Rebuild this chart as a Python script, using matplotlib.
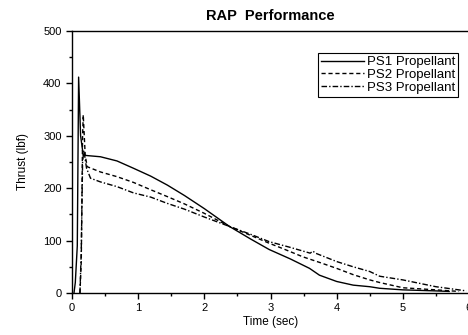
import matplotlib
matplotlib.use("Agg")
import matplotlib.pyplot as plt
from matplotlib.ticker import MultipleLocator

plt.rcParams['font.family'] = ['Liberation Sans', 'DejaVu Sans']

# PS1 Propellant (solid)
t1 = [0.03, 0.05, 0.08, 0.10, 0.13, 0.17, 0.25, 0.43, 0.68, 0.93, 1.19, 1.44,
      1.7, 2.0, 2.38, 2.7, 2.98, 3.3, 3.59, 3.74, 4.0, 4.25, 4.5, 4.65, 5.0, 5.5, 5.7]
p1 = [0, 20, 90, 412, 300, 263, 262, 260, 252, 238, 223, 206,
      186, 161, 127, 103, 83, 65, 47, 34, 22, 15, 12, 9, 6, 4, 3]

# PS2 Propellant (dashed)
t2 = [0.12, 0.14, 0.16, 0.17, 0.20, 0.23, 0.43, 0.68, 0.93, 1.19, 1.44, 1.7,
      2.0, 2.38, 2.7, 2.98, 3.2, 3.49, 3.75, 4.0, 4.25, 4.5, 4.65, 5.0, 5.5, 5.85]
p2 = [0, 60, 300, 340, 262, 241, 231, 222, 211, 197, 184, 170,
      152, 127, 110, 95, 84, 69, 58, 47, 35, 25, 20, 10, 6, 3]

# PS3 Propellant (dash-dot)
t3 = [0.12, 0.14, 0.16, 0.18, 0.22, 0.28, 0.43, 0.68, 0.93, 1.19, 1.44, 1.7,
      2.0, 2.38, 2.7, 2.98, 3.3, 3.6, 3.64, 3.68, 4.0, 4.25, 4.5, 4.65, 5.0, 5.5, 5.96]
p3 = [0, 80, 250, 272, 238, 219, 212, 203, 191, 183, 171, 160,
      145, 127, 112, 98, 87, 76, 80, 76, 60, 50, 41, 32, 25, 12, 4]

fig = plt.figure(figsize=(4.68, 3.35), dpi=100)
ax = fig.add_axes([72/468, 42/335, 397/468, 262/335])

ax.plot(t1, p1, color='black', lw=1.0, ls='-', label='PS1 Propellant')
ax.plot(t2, p2, color='black', lw=1.0, ls=(0, (3, 2)), label='PS2 Propellant')
ax.plot(t3, p3, color='black', lw=1.0, ls=(0, (4, 1.5, 1, 1.5)), label='PS3 Propellant')

ax.set_xlim(0, 6)
ax.set_ylim(0, 500)
ax.xaxis.set_major_locator(MultipleLocator(1))
ax.xaxis.set_minor_locator(MultipleLocator(0.5))
ax.yaxis.set_major_locator(MultipleLocator(100))
ax.yaxis.set_minor_locator(MultipleLocator(50))
ax.tick_params(which='both', direction='out', labelsize=8, width=1, top=False, right=False)
ax.tick_params(which='major', length=4)
ax.tick_params(which='minor', length=2.5)
for s in ax.spines.values():
    s.set_linewidth(1.0)

ax.set_xlabel('Time (sec)', fontsize=8.5, labelpad=2)
ax.set_ylabel('Thrust (lbf)', fontsize=8.5, labelpad=10)
ax.set_title('RAP  Performance', fontsize=10.5, fontweight='bold', pad=8)

leg = ax.legend(loc='upper right', bbox_to_anchor=(0.972, 0.915), fontsize=9.5,
                frameon=True, fancybox=False, framealpha=1, edgecolor='black',
                handlelength=3.3, handletextpad=0.2, labelspacing=0.05,
                borderpad=0.2, borderaxespad=0)
leg.get_frame().set_linewidth(0.8)

fig.savefig('out.png', dpi=100)
